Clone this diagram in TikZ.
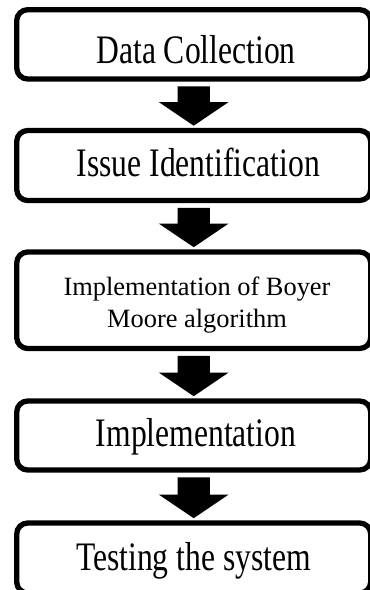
\documentclass[tikz,border=0pt]{standalone}
\usepackage{fontspec}
\usepackage{graphicx}
\setmainfont{Liberation Serif}
\usetikzlibrary{calc}
\tikzset{
  stepbox/.style={draw=black, line width=5.3pt, rounded corners=11pt, fill=white,
    minimum width=354pt, inner sep=0pt, outer sep=0pt},
  bigtext/.style={anchor=base, inner sep=0pt, font=\fontsize{31.6}{38}\selectfont},
  smalltext/.style={anchor=center, inner sep=0pt, align=center, font=\fontsize{26.4}{31.7}\selectfont},
}
\newcommand\blockarrow[2]{%
  \fill[black] ($(#1.south)+(-16.2,7.3)$) -- ($(#1.south)+(16.2,7.3)$)
    -- ($(#2.north)+(16.2,-28.5)$) -- ($(#2.north)+(35,-28.5)$)
    -- ($(#2.north)+(0,-4.8)$) -- ($(#2.north)+(-35,-28.5)$)
    -- ($(#2.north)+(-16.2,-28.5)$) -- cycle;}
\newcommand\tall[1]{\scalebox{1}[1.28]{#1}}
\begin{document}
\begin{tikzpicture}[x=1pt,y=-1pt]
\path[use as bounding box, clip] (0,0) rectangle (370,590);
\fill[white] (0,0) rectangle (370,590);
\node[stepbox, minimum height=69.3pt] (b1) at (193.7,44.35) {};
\node[stepbox, minimum height=70pt] (b2) at (193.7,165.5) {};
\node[stepbox, minimum height=96.5pt] (b3) at (193.7,300.25) {};
\node[stepbox, minimum height=69pt] (b4) at (193.7,435.5) {};
\node[stepbox, minimum height=70pt] (b5) at (193.7,558) {};
\node[bigtext] (t1) at (196,63) {\tall{Data Collection}};
\node[bigtext] (t2) at (198.3,176.7) {\tall{Issue Identification}};
\node[smalltext] (t3) at (197,304.7) {Implementation of Boyer\\Moore algorithm};
\node[bigtext] (t4) at (196,446.7) {\tall{Implementation}};
\node[bigtext] (t5) at (193.5,570) {\tall{Testing the system}};
\blockarrow{b1}{b2}
\blockarrow{b2}{b3}
\blockarrow{b3}{b4}
\blockarrow{b4}{b5}
\end{tikzpicture}
\end{document}
